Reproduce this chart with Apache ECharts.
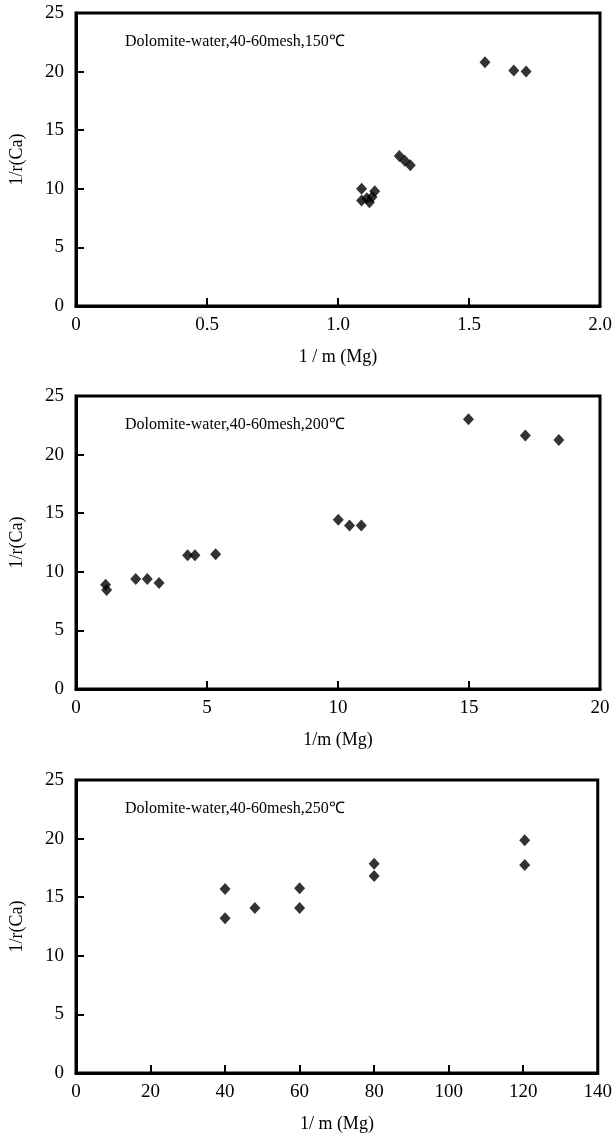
<!DOCTYPE html>
<html>
<head>
<meta charset="utf-8">
<script src="https://cdn.jsdelivr.net/npm/echarts@6/dist/echarts.min.js"></script>
<style>
  html, body { margin: 0; padding: 0; background: #fff; }
  #chart { width: 615px; height: 1147px; }
</style>
</head>
<body>
<div id="chart"></div>
<script>
// panel captions
const captions = [
  'Dolomite-water,40-60mesh,150\u2103',
  'Dolomite-water,40-60mesh,200\u2103',
  'Dolomite-water,40-60mesh,250\u2103',
];
const xNames = ['1 / m (Mg)', '1/m (Mg)', '1/ m (Mg)'];
const yName = '1/r(Ca)';

// x axis ranges [min, max, interval]
const xRanges = [[0, 2, 0.5], [0, 20, 5], [0, 140, 20]];

// 150 C
const x150 = [1.561, 1.671, 1.718, 1.234, 1.255, 1.276, 1.09, 1.09, 1.12, 1.13, 1.14, 1.11];
const y150 = [20.8, 20.1, 20.0, 12.8, 12.4, 12.0, 10.0, 9.0, 8.85, 9.3, 9.8, 9.2];

// 200 C
const x200 = [1.13, 1.17, 2.28, 2.72, 3.17, 4.26, 4.54, 5.33, 10.01, 10.44, 10.89, 14.98, 17.15, 18.43];
const y200 = [8.9, 8.45, 9.38, 9.38, 9.04, 11.41, 11.41, 11.5, 14.44, 13.95, 13.95, 23.02, 21.64, 21.24];

// 250 C
const x250 = [40, 40, 48, 60, 60, 80, 80, 120.4, 120.4];
const y250 = [15.69, 13.21, 14.07, 15.77, 14.07, 17.85, 16.8, 19.85, 17.74];

const panels = [[x150, y150], [x200, y200], [x250, y250]];

const font = "'Liberation Serif', 'Times New Roman', serif";
const tops = [13, 396, 780];
const plotH = 293;

const chart = echarts.init(document.getElementById('chart'));

const grid = [], xAxis = [], yAxis = [], series = [], graphic = [];
panels.forEach((p, i) => {
  grid.push({
    left: 74, width: 526, top: tops[i], height: plotH,
    show: true, borderColor: '#000', borderWidth: 3, backgroundColor: 'transparent',
  });
  const r = xRanges[i];
  xAxis.push({
    type: 'value', gridIndex: i, min: r[0], max: r[1], interval: r[2],
    name: xNames[i], nameLocation: 'middle', nameGap: 42,
    nameTextStyle: { fontFamily: font, fontSize: 18, color: '#000' },
    axisLine: { show: true, onZero: false, lineStyle: { color: '#000', width: 3 } },
    axisTick: { show: true, inside: true, length: 8, lineStyle: { color: '#000', width: 2 } },
    axisLabel: {
      margin: 10, fontFamily: font, fontSize: 19, color: '#000',
      formatter: v => (i === 0 && v !== 0 ? v.toFixed(1) : String(v)),
    },
    splitLine: { show: false },
  });
  yAxis.push({
    type: 'value', gridIndex: i, min: 0, max: 25, interval: 5,
    name: yName, nameLocation: 'middle', nameGap: 50,
    nameTextStyle: { fontFamily: font, fontSize: 18, color: '#000' },
    axisLine: { show: true, lineStyle: { color: '#000', width: 3 } },
    axisTick: { show: true, inside: true, length: 8, lineStyle: { color: '#000', width: 2 } },
    axisLabel: { margin: 12, fontFamily: font, fontSize: 19, color: '#000' },
    splitLine: { show: false },
  });
  series.push({
    type: 'scatter', xAxisIndex: i, yAxisIndex: i,
    symbol: 'diamond', symbolSize: [11, 12],
    itemStyle: { color: '#000' },
    data: p[0].map((x, k) => [x, p[1][k]]),
  });
  graphic.push({
    type: 'text', left: 125, top: tops[i] + 21,
    style: { text: captions[i], font: '16px ' + font, fill: '#000' },
  });
});

chart.setOption({
  animation: false,
  grid, xAxis, yAxis, series, graphic,
});
</script>
</body>
</html>
